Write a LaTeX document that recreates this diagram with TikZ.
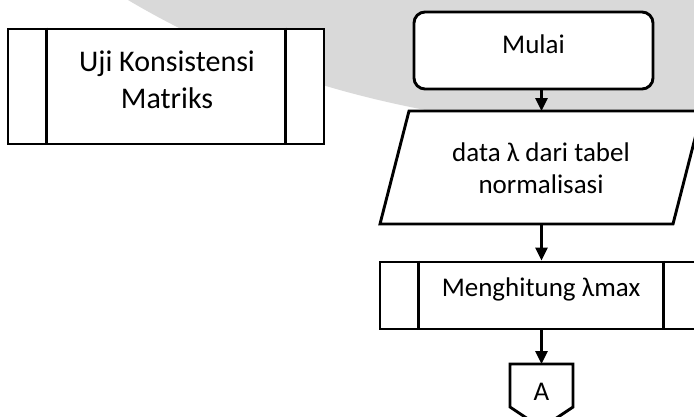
\documentclass[tikz,border=0pt]{standalone}
\usepackage{fontspec}
\setmainfont{Carlito}
\usetikzlibrary{arrows.meta}
\definecolor{bggray}{HTML}{D9D9D9}
\tikzset{
  boxline/.style={draw=black, line width=2.9pt, fill=white},
  lbl/.style={inner sep=0pt, align=center, font=\fontsize{27}{32}\selectfont},
  arr/.style={draw=black, line width=2.9pt, -{Triangle[width=12pt,length=13pt]}},
  sideline/.style={draw=black, line width=2.9pt},
}
\begin{document}
\begin{tikzpicture}[x=1pt,y=-1pt]
\useasboundingbox (0,0) rectangle (694,416);
\clip (0,0) rectangle (694,416);
\fill[white] (0,0) rectangle (694,416);
% background watermark band
\fill[bggray] (128,0) .. controls (280,90) and (450,130) .. (694,136) -- (694,0) -- cycle;

% left predefined process
\node[boxline, minimum width=316pt, minimum height=115pt] (uji) at (166,86.5) {};
\draw[sideline] ([xshift=40pt]uji.north west) -- ([xshift=40pt]uji.south west);
\draw[sideline] ([xshift=-40pt]uji.north east) -- ([xshift=-40pt]uji.south east);
\node[lbl, font=\fontsize{30}{36.6}\selectfont] (ujitext) at (167,80) {Uji Konsistensi\\Matriks};

% start terminal
\node[boxline, rounded corners=11pt, minimum width=239pt, minimum height=77pt] (mulai) at (533.5,50.5) {};
\node[lbl, anchor=base] (mulaitext) at (533.5,53.3) {Mulai};

% input parallelogram
\coordinate (ptop) at (541.5,111);
\coordinate (pbot) at (526.5,224);
\draw[boxline] (409,111) -- (702,111) -- (673,224) -- (380,224) -- cycle;
\node[lbl, font=\fontsize{27}{31.6}\selectfont] (datatext) at (541,168) {data λ dari tabel\\normalisasi};

% predefined process lambda max
\node[boxline, minimum width=322pt, minimum height=67pt] (hitung) at (541,295.5) {};
\draw[sideline] ([xshift=40pt]hitung.north west) -- ([xshift=40pt]hitung.south west);
\draw[sideline] ([xshift=-40pt]hitung.north east) -- ([xshift=-40pt]hitung.south east);
\node[lbl, anchor=base] (hitungtext) at (541,296.7) {Menghitung λmax};

% off-page connector
\coordinate (atop) at (541.5,364);
\draw[boxline] (510,364) -- (573,364) -- (573,407) -- (541.5,428) -- (510,407) -- cycle;
\node[lbl, anchor=base] (atext) at (541.5,400) {A};

% connectors
\draw[arr] (mulai.south -| ptop) -- (ptop);
\draw[arr] (ptop |- pbot) -- (hitung.north -| ptop);
\draw[arr] (hitung.south -| ptop) -- (atop);
\end{tikzpicture}
\end{document}
